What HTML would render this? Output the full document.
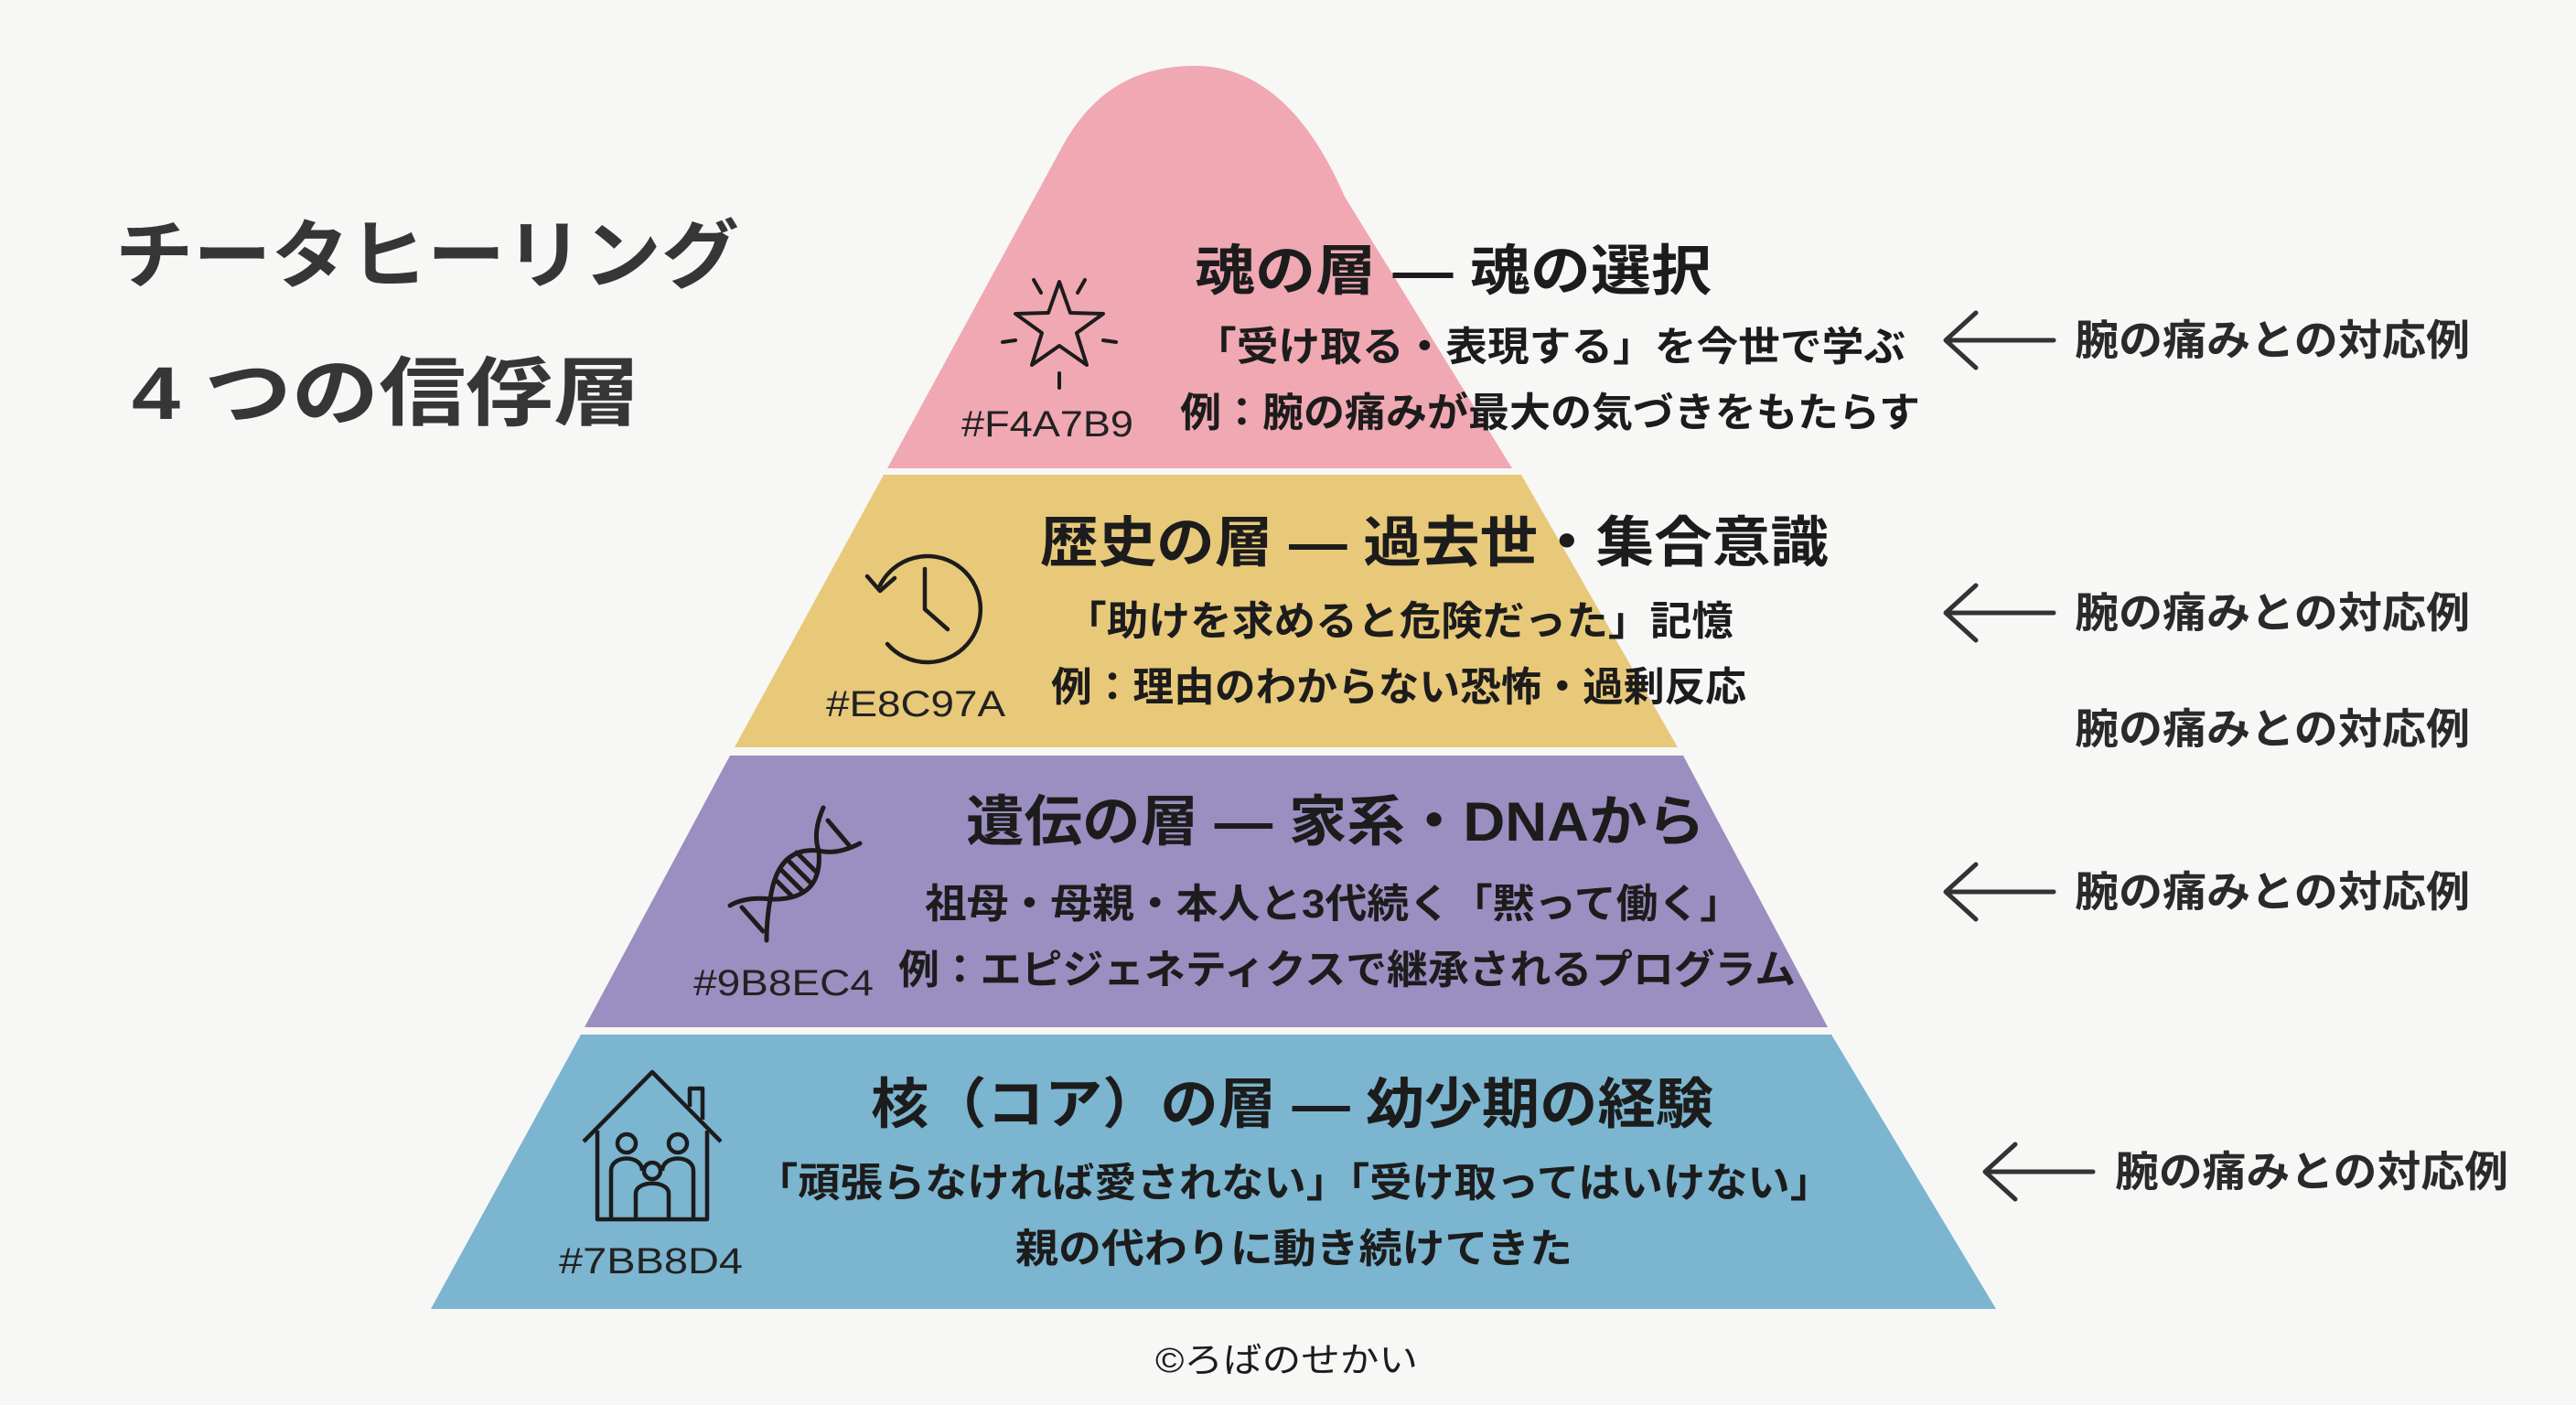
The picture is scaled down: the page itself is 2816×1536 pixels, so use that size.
<!DOCTYPE html>
<html><head><meta charset="utf-8"><style>
html,body{margin:0;padding:0;background:#f6f6f5;}
svg{display:block}
text{font-family:"Liberation Sans","Noto Sans CJK JP",sans-serif;fill:#1c1c1c}
.h{font-weight:700;font-size:60px}
.s{font-weight:700;font-size:44px}
.c{font-weight:400;font-size:40px;fill:#222}
.r{font-weight:700;font-size:46px;fill:#2a2a2a}
</style></head><body>
<svg width="2816" height="1536" viewBox="0 0 2816 1536" xmlns="http://www.w3.org/2000/svg">
<rect width="2816" height="1536" fill="#f7f7f6"/>
<!-- pink -->
<path d="M970 512 L1163 157 C1200 92 1250 72 1307 72 C1372 72 1428 118 1470 215 L1653 512 Z" fill="#f0a8b3"/>
<!-- yellow -->
<path d="M966 519 L1663 519 L1834 817 L803 817 Z" fill="#e8c97a"/>
<!-- purple -->
<path d="M798 826 L1840 826 L1998 1123 L639 1123 Z" fill="#9b8ec0"/>
<!-- blue -->
<path d="M635 1131 L2002 1131 L2182 1431 L471 1431 Z" fill="#7bb5d0"/>

<!-- title -->
<text x="126" y="308" font-size="82" font-weight="700" style="fill:#363636" textLength="682" lengthAdjust="spacingAndGlyphs">チータヒーリング</text>
<text x="144" y="458" font-size="82" font-weight="700" style="fill:#363636" textLength="556" lengthAdjust="spacingAndGlyphs">4 つの信俘層</text>

<!-- pink texts -->
<text class="h" x="1306" y="317" textLength="565" lengthAdjust="spacingAndGlyphs">魂の層 — 魂の選択</text>
<text class="s" x="1306" y="394" textLength="777" lengthAdjust="spacingAndGlyphs">「受け取る・表現する」を今世で学ぶ</text>
<text class="s" x="1290" y="466" textLength="809" lengthAdjust="spacingAndGlyphs">例：腕の痛みが最大の気づきをもたらす</text>
<text class="c" x="1051" y="477" textLength="188" lengthAdjust="spacingAndGlyphs">#F4A7B9</text>
<g stroke="#1c1c1c" stroke-width="4" fill="none" stroke-linecap="round" stroke-linejoin="round">
<path d="M1158 308 L1170 342 L1206 343 L1177 364 L1188 399 L1158 378 L1128 399 L1139 364 L1110 343 L1146 342 Z"/>
<path d="M1130 306 L1138 320 M1186 306 L1178 320 M1096 374 L1110 372 M1220 374 L1206 372 M1158 408 L1158 424"/>
</g>

<!-- yellow texts -->
<text class="h" x="1137" y="614" textLength="862" lengthAdjust="spacingAndGlyphs">歴史の層 — 過去世・集合意識</text>
<text class="s" x="1164" y="694" textLength="731" lengthAdjust="spacingAndGlyphs">「助けを求めると危険だった」記憶</text>
<text class="s" x="1149" y="766" textLength="760" lengthAdjust="spacingAndGlyphs">例：理由のわからない恐怖・過剰反応</text>
<text class="c" x="903" y="783" textLength="196" lengthAdjust="spacingAndGlyphs">#E8C97A</text>
<g stroke="#1c1c1c" stroke-width="4.5" fill="none" stroke-linecap="round" stroke-linejoin="round">
<path d="M962 640 A58 58 0 1 1 970 704"/>
<path d="M948 630 L962 646 L978 632"/>
<path d="M1011 622 L1011 666 L1036 688"/>
</g>

<!-- purple texts -->
<text class="h" x="1056" y="919" textLength="808" lengthAdjust="spacingAndGlyphs">遺伝の層 — 家系・DNAから</text>
<text class="s" x="1011" y="1003" textLength="893" lengthAdjust="spacingAndGlyphs">祖母・母親・本人と3代続く「黙って働く」</text>
<text class="s" x="982" y="1075" textLength="981" lengthAdjust="spacingAndGlyphs">例：エピジェネティクスで継承されるプログラム</text>
<text class="c" x="758" y="1088" textLength="197" lengthAdjust="spacingAndGlyphs">#9B8EC4</text>
<g stroke="#1c1c1c" stroke-width="5" fill="none" stroke-linecap="round">
<path d="M900 883 Q888 910 895 930 Q850 925 842 983 Q838 1005 838 1028"/>
<path d="M940 922 Q915 935 895 930 Q900 985 842 983 Q815 980 798 990"/>
<path d="M871 932 L893 954 M862 941 L886 965 M854 951 L877 974 M848 962 L866 980"/>
<path d="M905 897 L928 924 M811 992 L834 1018"/>
</g>

<!-- blue texts -->
<text class="h" x="952" y="1228" textLength="921" lengthAdjust="spacingAndGlyphs">核（コア）の層 — 幼少期の経験</text>
<text class="s" x="826" y="1308" textLength="1177" lengthAdjust="spacingAndGlyphs">「頑張らなければ愛されない」「受け取ってはいけない」</text>
<text class="s" x="1110" y="1380" textLength="609" lengthAdjust="spacingAndGlyphs">親の代わりに動き続けてきた</text>
<text class="c" x="611" y="1392" textLength="201" lengthAdjust="spacingAndGlyphs">#7BB8D4</text>
<g stroke="#1c1c1c" stroke-width="4.5" fill="none" stroke-linejoin="round">
<path d="M638 1248 L713 1172 L788 1248"/>
<path d="M653 1236 L653 1333 L773 1333 L773 1236"/>
<path d="M754 1210 L754 1190 L768 1190 L768 1224"/>
<circle cx="685" cy="1250" r="10"/><circle cx="741" cy="1250" r="10"/><circle cx="713" cy="1280" r="9"/>
<path d="M668 1333 L668 1280 C668 1262 702 1262 702 1280 M724 1280 C724 1262 758 1262 758 1280 L758 1333"/>
<path d="M695 1333 L695 1305 C695 1290 731 1290 731 1305 L731 1333"/>
</g>

<!-- right labels -->
<g stroke="#333" stroke-width="5" fill="none" stroke-linecap="round" stroke-linejoin="round">
<path d="M2127 372 L2245 372 M2160 342 L2127 372 L2160 402"/>
<path d="M2127 670 L2245 670 M2160 640 L2127 670 L2160 700"/>
<path d="M2127 975 L2245 975 M2160 945 L2127 975 L2160 1005"/>
<path d="M2170 1281 L2288 1281 M2203 1251 L2170 1281 L2203 1311"/>
</g>
<text class="r" x="2268" y="388" textLength="432" lengthAdjust="spacingAndGlyphs">腕の痛みとの対応例</text>
<text class="r" x="2268" y="686" textLength="432" lengthAdjust="spacingAndGlyphs">腕の痛みとの対応例</text>
<text class="r" x="2268" y="813" textLength="432" lengthAdjust="spacingAndGlyphs">腕の痛みとの対応例</text>
<text class="r" x="2268" y="991" textLength="432" lengthAdjust="spacingAndGlyphs">腕の痛みとの対応例</text>
<text class="r" x="2312" y="1297" textLength="430" lengthAdjust="spacingAndGlyphs">腕の痛みとの対応例</text>

<text x="1263" y="1500" font-size="38" textLength="287" lengthAdjust="spacingAndGlyphs">©ろばのせかい</text>
</svg>
</body></html>
